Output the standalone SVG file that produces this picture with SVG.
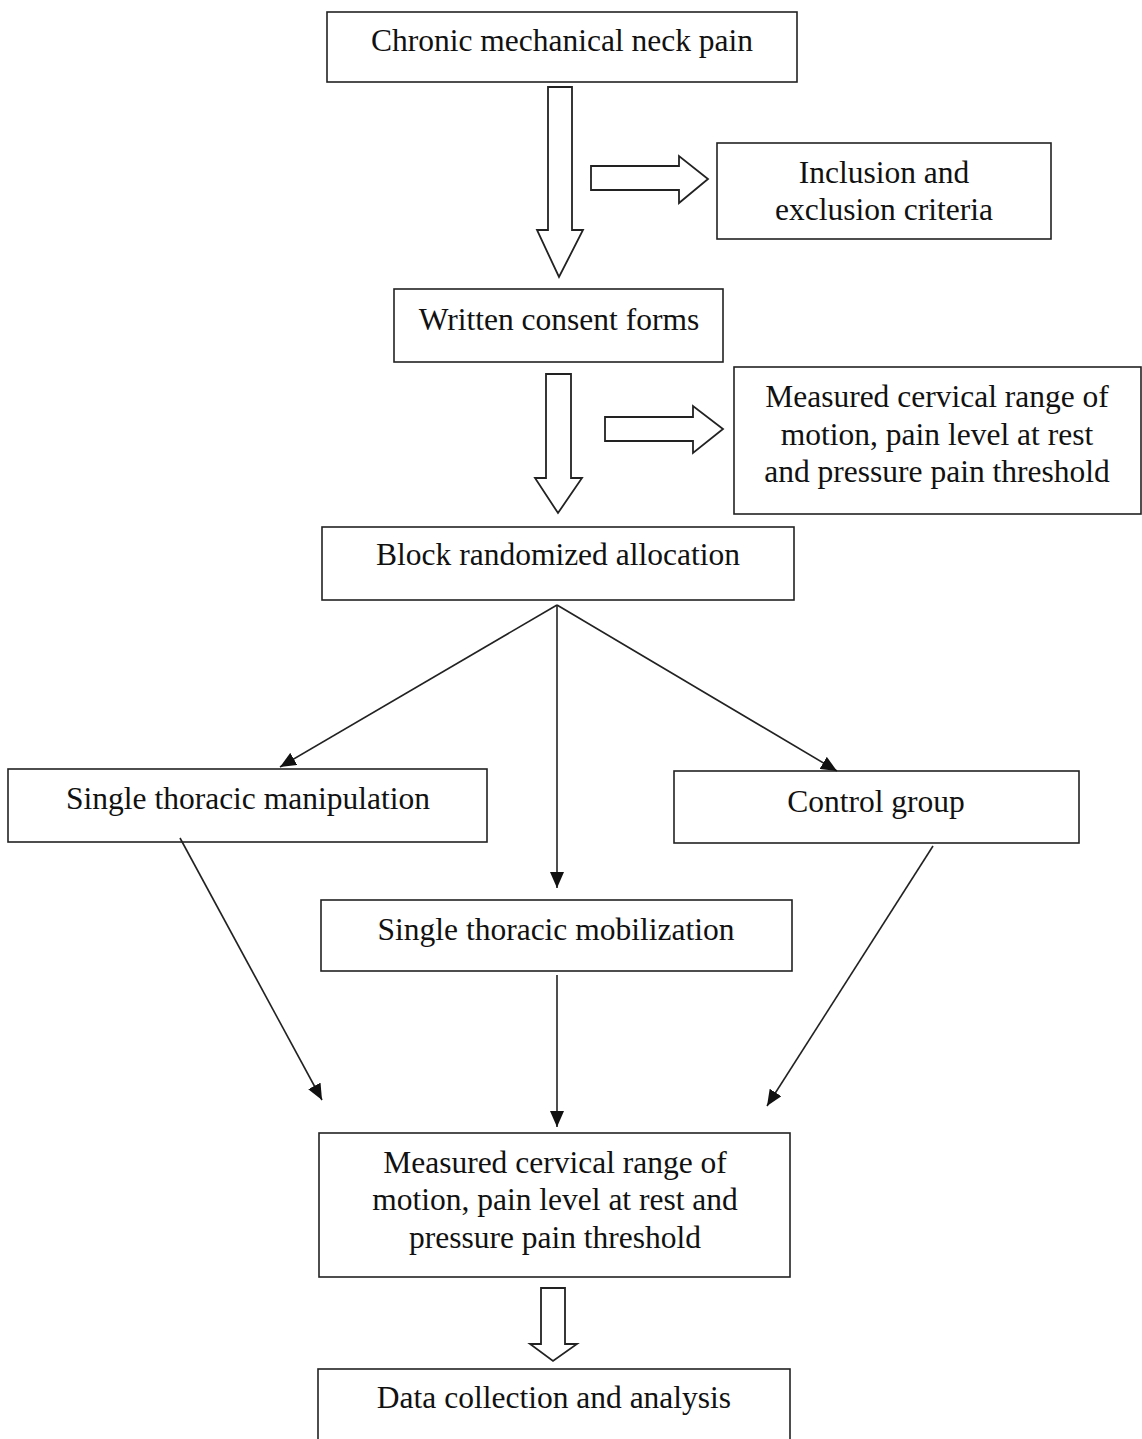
<svg xmlns="http://www.w3.org/2000/svg" width="1142" height="1439" viewBox="0 0 1142 1439">
<defs>
<style>
.box{fill:#fff;stroke:#222;stroke-width:1.6}
.t{font-family:'Liberation Serif','DejaVu Serif',serif;font-size:31.5px;fill:#111;text-anchor:middle}
.blk{fill:#fff;stroke:#222;stroke-width:1.8;stroke-linejoin:miter}
.ln{stroke:#222;stroke-width:1.6;fill:none;marker-end:url(#ah)}
</style>
<marker id="ah" viewBox="0 0 10 10" refX="10" refY="5" markerWidth="16" markerHeight="14" markerUnits="userSpaceOnUse" orient="auto" preserveAspectRatio="none">
<path d="M0,0 L10,5 L0,10 Z" fill="#111"/>
</marker>
</defs>
<rect width="1142" height="1439" fill="#fff"/>
<g id="n1"><rect class="box" x="327" y="12" width="470" height="70"/><text class="t" x="562" y="51">Chronic mechanical neck pain</text></g>
<g id="n2"><rect class="box" x="717" y="143" width="334" height="96"/><text class="t" x="884" y="183">Inclusion and</text><text class="t" x="884" y="220">exclusion criteria</text></g>
<g id="n3"><rect class="box" x="394" y="289" width="329" height="73"/><text class="t" x="559" y="330">Written consent forms</text></g>
<g id="n4"><rect class="box" x="734" y="367" width="407" height="147"/><text class="t" x="937" y="407">Measured cervical range of</text><text class="t" x="937" y="445">motion, pain level at rest</text><text class="t" x="937" y="482">and pressure pain threshold</text></g>
<g id="n5"><rect class="box" x="322" y="527" width="472" height="73"/><text class="t" x="558" y="565">Block randomized allocation</text></g>
<g id="n6"><rect class="box" x="8" y="769" width="479" height="73"/><text class="t" x="248" y="809">Single thoracic manipulation</text></g>
<g id="n7"><rect class="box" x="674" y="771" width="405" height="72"/><text class="t" x="876" y="812">Control group</text></g>
<g id="n8"><rect class="box" x="321" y="900" width="471" height="71"/><text class="t" x="556" y="940">Single thoracic mobilization</text></g>
<g id="n9"><rect class="box" x="319" y="1133" width="471" height="144"/><text class="t" x="555" y="1173">Measured cervical range of</text><text class="t" x="555" y="1210">motion, pain level at rest and</text><text class="t" x="555" y="1248">pressure pain threshold</text></g>
<g id="n10"><rect class="box" x="318" y="1369" width="472" height="80"/><text class="t" x="554" y="1408">Data collection and analysis</text></g>
<g id="connectors">
<path class="blk" d="M548,87 L572,87 L572,230 L583,230 L559,277 L537,230 L548,230 Z"/>
<path class="blk" d="M591,166 L679,166 L679,156 L708,179 L679,203 L679,190 L591,190 Z"/>
<path class="blk" d="M546,374 L571,374 L571,478 L582,478 L558,513 L535,478 L546,478 Z"/>
<path class="blk" d="M605,417 L693,417 L693,406 L723,429 L693,453 L693,441 L605,441 Z"/>
<path class="blk" d="M541,1288 L565,1288 L565,1344 L577,1344 L553,1361 L530,1344 L541,1344 Z"/>
<line class="ln" x1="557" y1="605" x2="280" y2="767"/>
<line class="ln" x1="557" y1="605" x2="837" y2="771"/>
<line class="ln" x1="557" y1="605" x2="557" y2="888"/>
<line class="ln" x1="180" y1="838" x2="322" y2="1100"/>
<line class="ln" x1="557" y1="975" x2="557" y2="1127"/>
<line class="ln" x1="933" y1="846" x2="767" y2="1106"/>
</g>
</svg>
